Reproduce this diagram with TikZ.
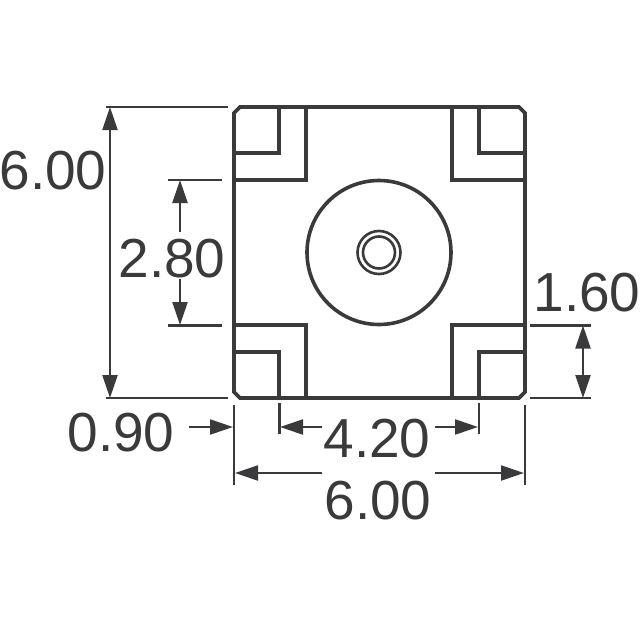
\documentclass[tikz,border=0pt]{standalone}
\usepackage{fontspec}
\setmainfont{Liberation Sans}
\usetikzlibrary{arrows.meta}
\definecolor{ink}{HTML}{3A3A3C}
\tikzset{
  x=1pt,y=-1pt,
  body/.style={draw=ink,line width=3.8pt,line join=miter},
  thin line/.style={draw=ink,line width=2.2pt},
  dimarrow/.style={draw=ink,line width=2.2pt,-{Triangle[length=23pt,width=15pt,inset=0pt]},shorten >=0pt},
  dimarrows/.style={draw=ink,line width=2.2pt,{Triangle[length=23pt,width=15pt,inset=0pt]}-{Triangle[length=23pt,width=15pt,inset=0pt]}},
  dimtext/.style={text=ink,font=\fontsize{55}{55}\selectfont,inner sep=0pt,anchor=base}
}
\begin{document}
\begin{tikzpicture}
\useasboundingbox (0,0) rectangle (640,640);
% body
\draw[body] (240,107) -- (519,107) -- (525,113) -- (525,392) -- (519,398) -- (240,398) -- (234,392) -- (234,113) -- cycle;
\draw[body] (306,107) -- (306,180) -- (234,180);
\draw[body] (279,107) -- (279,153) -- (234,153);
\draw[body] (452,107) -- (452,180) -- (525,180);
\draw[body] (479,107) -- (479,153) -- (525,153);
\draw[body] (306,398) -- (306,325) -- (234,325);
\draw[body] (279,398) -- (279,352) -- (234,352);
\draw[body] (452,398) -- (452,325) -- (525,325);
\draw[body] (479,398) -- (479,352) -- (525,352);
\node[circle,draw=ink,line width=3.6pt,minimum size=144pt,inner sep=0pt] (disc) at (379,252.5) {};
\node[circle,draw=ink,line width=2.6pt,minimum size=43pt,inner sep=0pt] (ringA) at (disc.center) {};
\node[circle,draw=ink,line width=2.6pt,minimum size=32pt,inner sep=0pt] (ringB) at (disc.center) {};
% extension lines
\draw[thin line] (106,107) -- (228,107);
\draw[thin line] (106,398) -- (228,398);
\draw[thin line] (168,180) -- (222,180);
\draw[thin line] (168,325.5) -- (222,325.5);
\draw[thin line] (530,325.5) -- (591,325.5);
\draw[thin line] (530,398) -- (591,398);
\draw[thin line] (234,405) -- (234,485);
\draw[thin line] (525,405) -- (525,485);
\draw[thin line] (279.5,403) -- (279.5,434);
\draw[thin line] (479,403) -- (479,434);
% dimensions
\coordinate (a1) at (110,107); \coordinate (a2) at (110,398);
\draw[dimarrows] (a1) -- (a2);
\coordinate (b1) at (180,180); \coordinate (b2) at (180,325); \coordinate (b3) at (180,232); \coordinate (b4) at (180,279);
\draw[dimarrow] (b3) -- (b1);
\draw[dimarrow] (b4) -- (b2);
\coordinate (c1) at (583,325.5); \coordinate (c2) at (583,398);
\draw[dimarrows] (c1) -- (c2);
\coordinate (d1) at (189,427); \coordinate (d2) at (233,427);
\draw[dimarrow] (d1) -- (d2);
\coordinate (e1) at (322,427); \coordinate (e2) at (280,427);
\draw[dimarrow] (e1) -- (e2);
\coordinate (f1) at (435,427); \coordinate (f2) at (478,427);
\draw[dimarrow] (f1) -- (f2);
\coordinate (g1) at (322,473); \coordinate (g2) at (235,473);
\draw[dimarrow] (g1) -- (g2);
\coordinate (h1) at (435,473); \coordinate (h2) at (524,473);
\draw[dimarrow] (h1) -- (h2);
% text
\node[dimtext] (t1) at (53,189) {6.00};
\node[dimtext] (t2) at (172,277) {2.80};
\node[dimtext] (t3) at (587,311) {1.60};
\node[dimtext] (t4) at (121,451) {0.90};
\node[dimtext] (t5) at (377,457) {4.20};
\node[dimtext] (t6) at (378,519) {6.00};
\end{tikzpicture}
\end{document}
